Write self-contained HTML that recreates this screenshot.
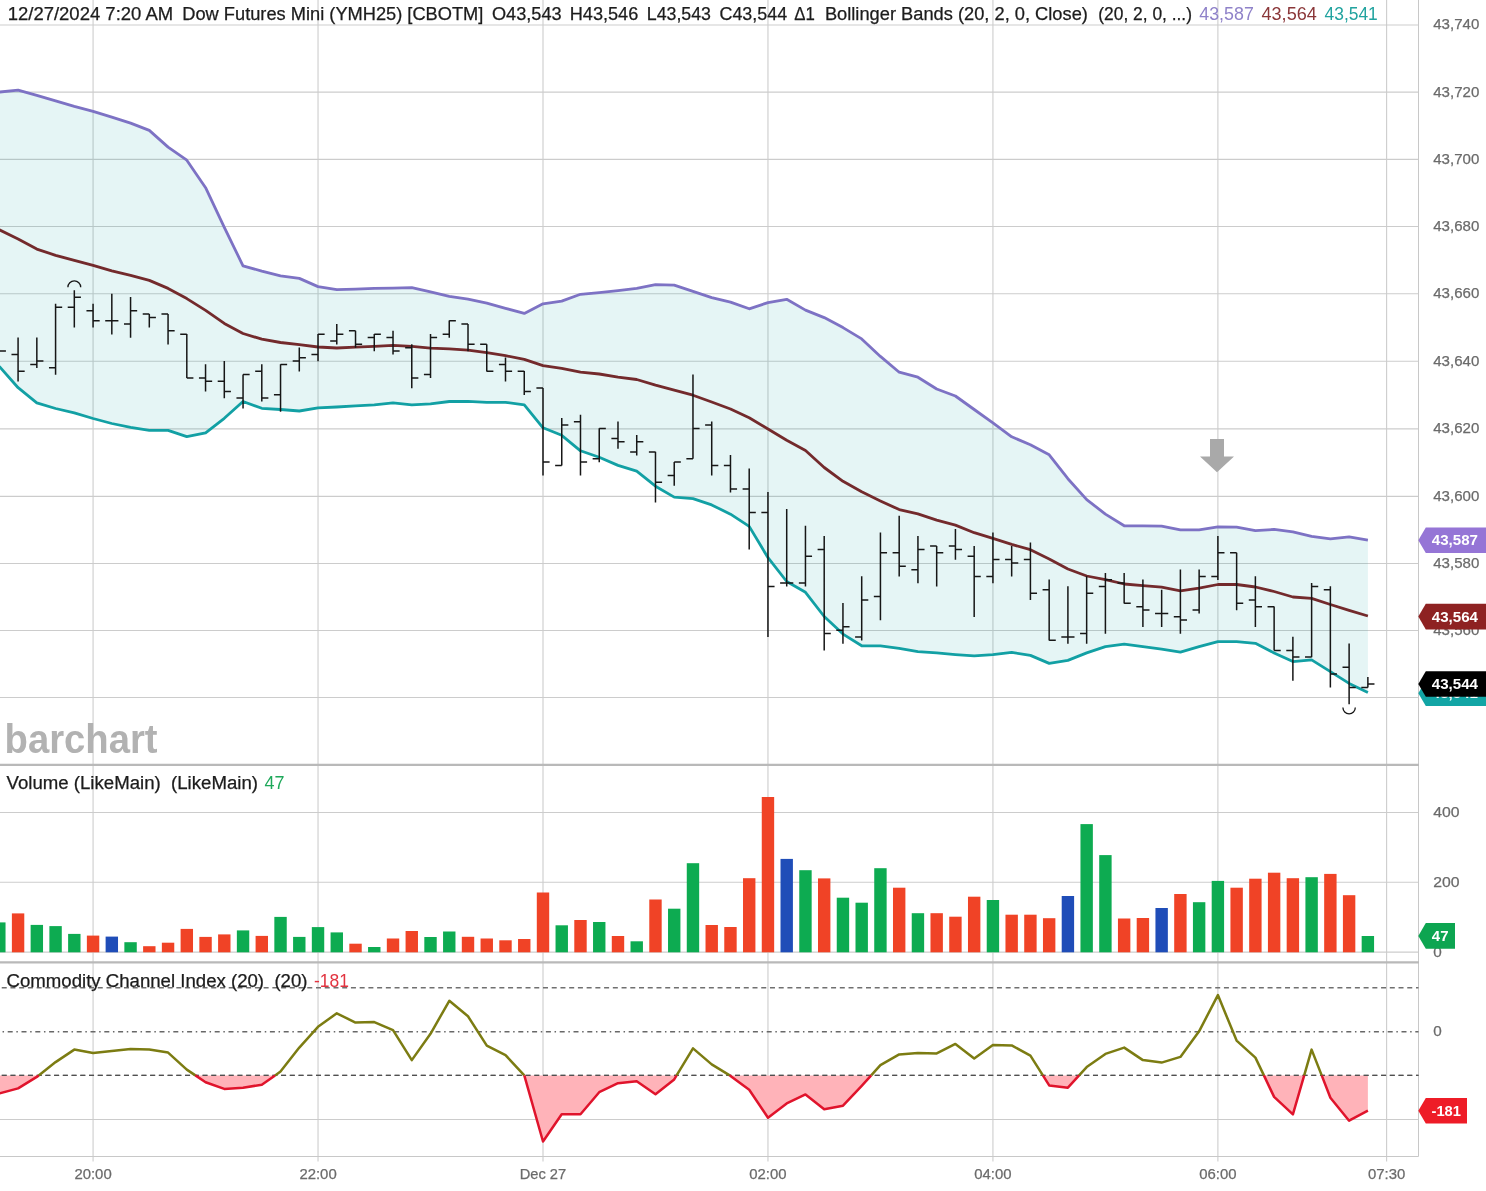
<!DOCTYPE html>
<html lang="en"><head><meta charset="utf-8"><title>Dow Futures Mini (YMH25) chart</title>
<style>html,body{margin:0;padding:0;background:#fff;}body{width:1486px;height:1191px;overflow:hidden;font-family:"Liberation Sans", sans-serif;}svg{display:block}</style>
</head><body>
<svg width="1486" height="1191" viewBox="0 0 1486 1191" font-family='"Liberation Sans", sans-serif'>
<rect width="1486" height="1191" fill="#fff"/>
<path d="M93.07 0V1161.5 M318.03 0V1161.5 M543.0 0V1161.5 M767.96 0V1161.5 M992.93 0V1161.5 M1217.89 0V1161.5 M1386.61 0V1161.5 M0 24.93H1418.5 M0 92.13H1418.5 M0 159.34H1418.5 M0 226.54H1418.5 M0 293.74H1418.5 M0 361.3H1418.5 M0 428.86H1418.5 M0 496.42H1418.5 M0 563.43H1418.5 M0 630.45H1418.5 M0 697.46H1418.5 M0 812.5H1418.5 M0 882.3H1418.5 M0 952.1H1418.5 M0 1119.5H1418.5" stroke="#000" stroke-opacity="0.2" stroke-width="1.1" fill="none"/>
<path d="M1418.5 0V1156.5 M0 1156.5H1418.5" stroke="#c8c8c8" stroke-width="1" fill="none"/>
<polygon points="-0.7,92.1 18.1,90.1 36.8,95.3 55.6,100.8 74.3,106.3 93.1,111.3 111.8,117.1 130.6,123.1 149.3,130.4 168.1,147.1 186.8,160.2 205.6,187.7 224.3,227.3 243.0,265.8 261.8,271.1 280.5,275.9 299.3,278.4 318.0,286.6 336.8,289.6 355.5,289.1 374.3,288.3 393.0,288.1 411.8,287.6 430.5,291.8 449.3,296.3 468.0,299.1 486.8,303.1 505.5,308.3 524.3,313.4 543.0,303.8 561.7,301.1 580.5,294.3 599.2,292.6 618.0,290.6 636.7,288.3 655.5,284.6 674.2,285.1 693.0,291.3 711.7,297.6 730.5,302.1 749.2,308.8 768.0,302.6 786.7,299.3 805.5,310.1 824.2,317.6 843.0,327.6 861.7,338.9 880.4,356.4 899.2,372.2 917.9,377.2 936.7,389.0 955.4,396.0 974.2,409.5 992.9,422.8 1011.7,436.8 1030.4,444.8 1049.2,454.8 1067.9,478.7 1086.7,499.6 1105.4,514.1 1124.2,525.8 1142.9,525.8 1161.6,526.1 1180.4,529.9 1199.1,529.9 1217.9,526.9 1236.6,527.1 1255.4,530.7 1274.1,529.4 1292.9,531.9 1311.6,536.4 1330.4,538.9 1349.1,536.9 1367.9,540.2 1367.9,692.4 1349.1,683.4 1330.4,671.6 1311.6,659.9 1292.9,661.6 1274.1,652.9 1255.4,643.3 1236.6,641.6 1217.9,641.6 1199.1,646.6 1180.4,652.1 1161.6,649.1 1142.9,646.6 1124.2,644.1 1105.4,646.6 1086.7,652.9 1067.9,660.4 1049.2,663.4 1030.4,655.4 1011.7,652.4 992.9,654.6 974.2,655.9 955.4,654.6 936.7,652.9 917.9,651.6 899.2,648.3 880.4,645.8 861.7,645.8 843.0,634.1 824.2,616.5 805.5,592.3 786.7,581.5 768.0,557.7 749.2,526.4 730.5,514.2 711.7,504.9 693.0,498.7 674.2,497.1 655.5,486.2 636.7,471.1 618.0,465.4 599.2,457.3 580.5,450.8 561.7,435.3 543.0,427.8 524.3,404.8 505.5,402.3 486.8,402.3 468.0,401.3 449.3,401.5 430.5,403.8 411.8,404.8 393.0,402.8 374.3,404.8 355.5,405.8 336.8,407.0 318.0,407.8 299.3,411.0 280.5,409.5 261.8,408.3 243.0,401.5 224.3,418.3 205.6,432.8 186.8,436.6 168.1,430.3 149.3,430.3 130.6,427.3 111.8,423.5 93.1,418.5 74.3,412.8 55.6,408.5 36.8,402.8 18.1,387.7 -0.7,366.4" fill="#12a0a4" fill-opacity="0.11"/>
<polyline points="-0.7,92.1 18.1,90.1 36.8,95.3 55.6,100.8 74.3,106.3 93.1,111.3 111.8,117.1 130.6,123.1 149.3,130.4 168.1,147.1 186.8,160.2 205.6,187.7 224.3,227.3 243.0,265.8 261.8,271.1 280.5,275.9 299.3,278.4 318.0,286.6 336.8,289.6 355.5,289.1 374.3,288.3 393.0,288.1 411.8,287.6 430.5,291.8 449.3,296.3 468.0,299.1 486.8,303.1 505.5,308.3 524.3,313.4 543.0,303.8 561.7,301.1 580.5,294.3 599.2,292.6 618.0,290.6 636.7,288.3 655.5,284.6 674.2,285.1 693.0,291.3 711.7,297.6 730.5,302.1 749.2,308.8 768.0,302.6 786.7,299.3 805.5,310.1 824.2,317.6 843.0,327.6 861.7,338.9 880.4,356.4 899.2,372.2 917.9,377.2 936.7,389.0 955.4,396.0 974.2,409.5 992.9,422.8 1011.7,436.8 1030.4,444.8 1049.2,454.8 1067.9,478.7 1086.7,499.6 1105.4,514.1 1124.2,525.8 1142.9,525.8 1161.6,526.1 1180.4,529.9 1199.1,529.9 1217.9,526.9 1236.6,527.1 1255.4,530.7 1274.1,529.4 1292.9,531.9 1311.6,536.4 1330.4,538.9 1349.1,536.9 1367.9,540.2" fill="none" stroke="#7d72c4" stroke-width="2.8" stroke-linejoin="round"/>
<polyline points="-0.7,366.4 18.1,387.7 36.8,402.8 55.6,408.5 74.3,412.8 93.1,418.5 111.8,423.5 130.6,427.3 149.3,430.3 168.1,430.3 186.8,436.6 205.6,432.8 224.3,418.3 243.0,401.5 261.8,408.3 280.5,409.5 299.3,411.0 318.0,407.8 336.8,407.0 355.5,405.8 374.3,404.8 393.0,402.8 411.8,404.8 430.5,403.8 449.3,401.5 468.0,401.3 486.8,402.3 505.5,402.3 524.3,404.8 543.0,427.8 561.7,435.3 580.5,450.8 599.2,457.3 618.0,465.4 636.7,471.1 655.5,486.2 674.2,497.1 693.0,498.7 711.7,504.9 730.5,514.2 749.2,526.4 768.0,557.7 786.7,581.5 805.5,592.3 824.2,616.5 843.0,634.1 861.7,645.8 880.4,645.8 899.2,648.3 917.9,651.6 936.7,652.9 955.4,654.6 974.2,655.9 992.9,654.6 1011.7,652.4 1030.4,655.4 1049.2,663.4 1067.9,660.4 1086.7,652.9 1105.4,646.6 1124.2,644.1 1142.9,646.6 1161.6,649.1 1180.4,652.1 1199.1,646.6 1217.9,641.6 1236.6,641.6 1255.4,643.3 1274.1,652.9 1292.9,661.6 1311.6,659.9 1330.4,671.6 1349.1,683.4 1367.9,692.4" fill="none" stroke="#12a0a4" stroke-width="2.8" stroke-linejoin="round"/>
<polyline points="-0.7,229.8 18.1,239.0 36.8,249.1 55.6,255.3 74.3,260.3 93.1,265.3 111.8,270.9 130.6,275.4 149.3,280.4 168.1,288.4 186.8,298.6 205.6,310.4 224.3,323.4 243.0,333.5 261.8,339.2 280.5,342.5 299.3,344.7 318.0,347.0 336.8,348.0 355.5,347.2 374.3,346.4 393.0,345.4 411.8,346.4 430.5,348.2 449.3,348.9 468.0,350.2 486.8,352.7 505.5,355.7 524.3,359.4 543.0,365.7 561.7,368.4 580.5,372.2 599.2,374.0 618.0,377.2 636.7,379.5 655.5,385.2 674.2,390.2 693.0,395.2 711.7,402.0 730.5,409.0 749.2,417.8 768.0,429.0 786.7,440.3 805.5,450.5 824.2,467.5 843.0,481.3 861.7,491.8 880.4,500.9 899.2,509.6 917.9,513.9 936.7,520.1 955.4,525.1 974.2,532.7 992.9,538.4 1011.7,544.4 1030.4,549.7 1049.2,558.9 1067.9,569.0 1086.7,576.0 1105.4,579.7 1124.2,584.0 1142.9,585.7 1161.6,587.2 1180.4,590.8 1199.1,588.2 1217.9,584.5 1236.6,584.5 1255.4,587.0 1274.1,591.5 1292.9,597.0 1311.6,598.3 1330.4,604.5 1349.1,610.3 1367.9,616.0" fill="none" stroke="#732a2c" stroke-width="2.8" stroke-linejoin="round"/>
<path d="M-0.67 351.0h6.6M18.08 337.4V381.5M11.48 354.4H18.08M18.08 371.2h6.6M36.83 337.4V368.0M30.23 364.5H36.83M36.83 361.1h6.6M55.58 303.8V374.7M48.98 367.8H55.58M55.58 307.3h6.6M74.32 290.3V327.6M67.72 307.3H74.32M74.32 297.2h6.6M93.07 303.8V327.6M86.47 310.7H93.07M93.07 320.8h6.6M111.82 293.7V334.4M105.22 320.8H111.82M111.82 320.8h6.6M130.56 297.1V337.7M123.96 324.1H130.56M130.56 310.7h6.6M149.31 313.9V327.6M142.71 314.0H149.31M149.31 317.4h6.6M168.06 313.9V344.5M161.46 314.0H168.06M168.06 330.8h6.6M186.81 334.1V378.1M180.21 334.2H186.81M186.81 377.9h6.6M205.55 364.3V391.5M198.95 377.9H205.55M205.55 381.3h6.6M224.30 361.0V398.3M217.70 381.3H224.30M224.30 391.4h6.6M243.05 374.4V408.4M236.45 398.1H243.05M243.05 374.6h6.6M261.79 364.3V401.6M255.19 371.2H261.79M261.79 398.1h6.6M280.54 364.3V411.7M273.94 394.8H280.54M280.54 364.5h6.6M299.29 347.5V371.4M292.69 361.1H299.29M299.29 357.8h6.6M318.03 334.1V361.3M311.43 354.4H318.03M318.03 334.2h6.6M336.78 324.0V344.5M330.18 340.9H336.78M336.78 334.2h6.6M355.53 330.7V347.8M348.93 330.8H355.53M355.53 344.3h6.6M374.27 334.1V351.2M367.67 337.6H374.27M374.27 334.2h6.6M393.02 330.7V354.5M386.42 337.6H393.02M393.02 351.0h6.6M411.77 344.2V388.2M405.17 347.7H411.77M411.77 377.9h6.6M430.52 334.1V378.1M423.92 374.6H430.52M430.52 337.6h6.6M449.26 320.6V337.7M442.66 334.2H449.26M449.26 320.8h6.6M468.01 324.0V351.2M461.41 324.1H468.01M468.01 344.3h6.6M486.76 344.2V371.4M480.16 344.3H486.76M486.76 371.2h6.6M505.50 357.6V381.5M498.90 364.5H505.50M505.50 371.2h6.6M524.25 371.1V394.9M517.65 371.2H524.25M524.25 391.4h6.6M543.00 387.9V475.6M536.40 388.0H543.00M543.00 462.0h6.6M561.75 418.1V465.5M555.14 465.4H561.75M561.75 425.0h6.6M580.49 414.8V475.6M573.89 421.7H580.49M580.49 462.0h6.6M599.24 428.2V462.2M592.64 458.7H599.24M599.24 428.4h6.6M617.99 421.5V448.7M611.39 438.5H617.99M617.99 441.8h6.6M636.73 435.0V455.4M630.13 451.9H636.73M636.73 441.8h6.6M655.48 451.8V502.5M648.88 451.9H655.48M655.48 482.2h6.6M674.23 461.9V485.7M667.63 475.5H674.23M674.23 462.0h6.6M692.97 374.4V458.8M686.37 458.7H692.97M692.97 428.4h6.6M711.72 421.5V475.6M705.12 425.0H711.72M711.72 465.4h6.6M730.47 455.1V492.4M723.87 465.4H730.47M730.47 488.9h6.6M749.21 468.6V549.6M742.61 488.9H749.21M749.21 512.5h6.6M767.96 492.1V637.1M761.36 512.5H767.96M767.96 586.5h6.6M786.71 509.0V586.6M780.11 583.1H786.71M786.71 583.1h6.6M805.46 525.8V586.6M798.86 583.1H805.46M805.46 556.2h6.6M824.20 535.9V650.5M817.60 549.5H824.20M824.20 633.6h6.6M842.95 603.1V643.8M836.35 630.2H842.95M842.95 626.8h6.6M861.70 576.2V640.4M855.10 636.9H861.70M861.70 599.9h6.6M880.44 532.5V620.3M873.84 596.6H880.44M880.44 552.8h6.6M899.19 515.7V576.5M892.59 552.8H899.19M899.19 566.3h6.6M917.94 535.9V583.3M911.34 569.7H917.94M917.94 549.5h6.6M936.68 546.0V586.6M930.08 546.1H936.68M936.68 552.8h6.6M955.43 529.1V559.7M948.83 546.1H955.43M955.43 549.5h6.6M974.18 546.0V616.9M967.58 556.2H974.18M974.18 576.4h6.6M992.93 532.5V583.3M986.33 576.4H992.93M992.93 559.6h6.6M1011.67 546.0V576.5M1005.07 559.6H1011.67M1011.67 562.9h6.6M1030.42 542.6V600.1M1023.82 559.6H1030.42M1030.42 593.2h6.6M1049.17 579.6V640.4M1042.57 589.8H1049.17M1049.17 640.3h6.6M1067.91 586.3V643.8M1061.31 636.9H1067.91M1067.91 636.9h6.6M1086.66 576.2V643.8M1080.06 633.6H1086.66M1086.66 593.2h6.6M1105.41 572.9V633.7M1098.81 586.5H1105.41M1105.41 579.7h6.6M1124.15 572.9V603.4M1117.56 583.1H1124.15M1124.15 603.3h6.6M1142.90 579.6V627.0M1136.30 606.7H1142.90M1142.90 610.0h6.6M1161.65 589.7V627.0M1155.05 613.4H1161.65M1161.65 613.4h6.6M1180.40 569.5V633.7M1173.80 616.7H1180.40M1180.40 620.1h6.6M1199.14 569.5V613.5M1192.54 610.0H1199.14M1199.14 576.4h6.6M1217.89 535.9V579.9M1211.29 576.4H1217.89M1217.89 552.8h6.6M1236.64 552.7V610.2M1230.04 552.8H1236.64M1236.64 603.3h6.6M1255.38 576.2V627.0M1248.78 599.9H1255.38M1255.38 606.7h6.6M1274.13 606.5V650.5M1267.53 606.7H1274.13M1274.13 650.4h6.6M1292.88 636.8V680.8M1286.28 650.4H1292.88M1292.88 657.1h6.6M1311.62 583.0V657.3M1305.03 657.1H1311.62M1311.62 586.5h6.6M1330.37 586.3V687.5M1323.77 589.8H1330.37M1330.37 673.9h6.6M1349.12 643.5V704.3M1342.52 667.2H1349.12M1349.12 687.4h6.6M1367.87 677.1V687.5M1361.27 687.4H1367.87M1367.87 684.0h6.6" stroke="#161616" stroke-width="1.5" fill="none"/>
<path d="M67.9 287.2a6.4 6.4 0 0 1 12.8 0" fill="none" stroke="#161616" stroke-width="1.3"/>
<path d="M1342.9 707.6a6.2 6.2 0 0 0 12.4 0" fill="none" stroke="#161616" stroke-width="1.3"/>
<path d="M1210 439H1224V456.5H1234L1217 472.3L1200 456.5H1210Z" fill="#a9a9a9"/>
<text x="4.6" y="752.8" font-size="40" font-weight="bold" fill="#b2b2b2" textLength="153" lengthAdjust="spacingAndGlyphs">barchart</text>
<path d="M0 764.9H1419.0 M0 962.4H1419.0" stroke="#b9b9b9" stroke-width="2.2" fill="none"/>
<rect x="-6.87" y="922.4" width="12.4" height="29.9" fill="#0dab51"/>
<rect x="11.88" y="913.4" width="12.4" height="38.9" fill="#f04326"/>
<rect x="30.63" y="924.9" width="12.4" height="27.4" fill="#0dab51"/>
<rect x="49.38" y="926.1" width="12.4" height="26.2" fill="#0dab51"/>
<rect x="68.12" y="933.9" width="12.4" height="18.4" fill="#0dab51"/>
<rect x="86.87" y="935.6" width="12.4" height="16.7" fill="#f04326"/>
<rect x="105.62" y="936.6" width="12.4" height="15.7" fill="#1f4db8"/>
<rect x="124.36" y="942.2" width="12.4" height="10.1" fill="#0dab51"/>
<rect x="143.11" y="946.2" width="12.4" height="6.1" fill="#f04326"/>
<rect x="161.86" y="942.7" width="12.4" height="9.6" fill="#f04326"/>
<rect x="180.61" y="928.9" width="12.4" height="23.4" fill="#f04326"/>
<rect x="199.35" y="936.9" width="12.4" height="15.4" fill="#f04326"/>
<rect x="218.10" y="934.4" width="12.4" height="17.9" fill="#f04326"/>
<rect x="236.85" y="930.4" width="12.4" height="21.9" fill="#0dab51"/>
<rect x="255.59" y="935.9" width="12.4" height="16.4" fill="#f04326"/>
<rect x="274.34" y="916.9" width="12.4" height="35.4" fill="#0dab51"/>
<rect x="293.09" y="936.9" width="12.4" height="15.4" fill="#0dab51"/>
<rect x="311.83" y="927.1" width="12.4" height="25.2" fill="#0dab51"/>
<rect x="330.58" y="932.4" width="12.4" height="19.9" fill="#0dab51"/>
<rect x="349.33" y="943.7" width="12.4" height="8.6" fill="#f04326"/>
<rect x="368.07" y="947.0" width="12.4" height="5.3" fill="#0dab51"/>
<rect x="386.82" y="938.5" width="12.4" height="13.8" fill="#f04326"/>
<rect x="405.57" y="931.0" width="12.4" height="21.3" fill="#f04326"/>
<rect x="424.32" y="937.0" width="12.4" height="15.3" fill="#0dab51"/>
<rect x="443.06" y="931.5" width="12.4" height="20.8" fill="#0dab51"/>
<rect x="461.81" y="936.8" width="12.4" height="15.5" fill="#f04326"/>
<rect x="480.56" y="938.5" width="12.4" height="13.8" fill="#f04326"/>
<rect x="499.30" y="940.3" width="12.4" height="12.0" fill="#f04326"/>
<rect x="518.05" y="939.0" width="12.4" height="13.3" fill="#f04326"/>
<rect x="536.80" y="892.5" width="12.4" height="59.8" fill="#f04326"/>
<rect x="555.54" y="925.3" width="12.4" height="27.0" fill="#0dab51"/>
<rect x="574.29" y="920.0" width="12.4" height="32.3" fill="#f04326"/>
<rect x="593.04" y="922.0" width="12.4" height="30.3" fill="#0dab51"/>
<rect x="611.79" y="936.0" width="12.4" height="16.3" fill="#f04326"/>
<rect x="630.53" y="941.3" width="12.4" height="11.0" fill="#0dab51"/>
<rect x="649.28" y="899.5" width="12.4" height="52.8" fill="#f04326"/>
<rect x="668.03" y="908.7" width="12.4" height="43.6" fill="#0dab51"/>
<rect x="686.77" y="863.2" width="12.4" height="89.1" fill="#0dab51"/>
<rect x="705.52" y="925.0" width="12.4" height="27.3" fill="#f04326"/>
<rect x="724.27" y="927.0" width="12.4" height="25.3" fill="#f04326"/>
<rect x="743.01" y="878.2" width="12.4" height="74.1" fill="#f04326"/>
<rect x="761.76" y="797.0" width="12.4" height="155.3" fill="#f04326"/>
<rect x="780.51" y="858.9" width="12.4" height="93.4" fill="#1f4db8"/>
<rect x="799.26" y="870.2" width="12.4" height="82.1" fill="#0dab51"/>
<rect x="818.00" y="878.4" width="12.4" height="73.9" fill="#f04326"/>
<rect x="836.75" y="897.7" width="12.4" height="54.6" fill="#0dab51"/>
<rect x="855.50" y="902.7" width="12.4" height="49.6" fill="#0dab51"/>
<rect x="874.24" y="868.2" width="12.4" height="84.1" fill="#0dab51"/>
<rect x="892.99" y="887.7" width="12.4" height="64.6" fill="#f04326"/>
<rect x="911.74" y="913.2" width="12.4" height="39.1" fill="#0dab51"/>
<rect x="930.48" y="913.2" width="12.4" height="39.1" fill="#f04326"/>
<rect x="949.23" y="916.7" width="12.4" height="35.6" fill="#f04326"/>
<rect x="967.98" y="896.7" width="12.4" height="55.6" fill="#f04326"/>
<rect x="986.73" y="900.0" width="12.4" height="52.3" fill="#0dab51"/>
<rect x="1005.47" y="914.7" width="12.4" height="37.6" fill="#f04326"/>
<rect x="1024.22" y="914.7" width="12.4" height="37.6" fill="#f04326"/>
<rect x="1042.97" y="918.2" width="12.4" height="34.1" fill="#f04326"/>
<rect x="1061.71" y="896.0" width="12.4" height="56.3" fill="#1f4db8"/>
<rect x="1080.46" y="824.1" width="12.4" height="128.2" fill="#0dab51"/>
<rect x="1099.21" y="855.1" width="12.4" height="97.2" fill="#0dab51"/>
<rect x="1117.95" y="918.5" width="12.4" height="33.8" fill="#f04326"/>
<rect x="1136.70" y="918.0" width="12.4" height="34.3" fill="#f04326"/>
<rect x="1155.45" y="908.0" width="12.4" height="44.3" fill="#1f4db8"/>
<rect x="1174.20" y="894.0" width="12.4" height="58.3" fill="#f04326"/>
<rect x="1192.94" y="902.2" width="12.4" height="50.1" fill="#0dab51"/>
<rect x="1211.69" y="880.9" width="12.4" height="71.4" fill="#0dab51"/>
<rect x="1230.44" y="887.7" width="12.4" height="64.6" fill="#f04326"/>
<rect x="1249.18" y="878.7" width="12.4" height="73.6" fill="#f04326"/>
<rect x="1267.93" y="872.7" width="12.4" height="79.6" fill="#f04326"/>
<rect x="1286.68" y="878.2" width="12.4" height="74.1" fill="#f04326"/>
<rect x="1305.42" y="877.2" width="12.4" height="75.1" fill="#0dab51"/>
<rect x="1324.17" y="873.9" width="12.4" height="78.4" fill="#f04326"/>
<rect x="1342.92" y="895.2" width="12.4" height="57.1" fill="#f04326"/>
<rect x="1361.67" y="936.0" width="12.4" height="16.3" fill="#0dab51"/>
<path d="M0 987.8H1418.5 M0 1075.4H1418.5" stroke="#707070" stroke-width="1.4" stroke-dasharray="5 3.73" stroke-dashoffset="7" fill="none"/>
<path d="M0 1031.7H1418.5" stroke="#686868" stroke-width="1.4" stroke-dasharray="5 3.65 1.5 3.65" stroke-dashoffset="6.1" fill="none"/>
<polygon points="-0.7,1075.4 -0.7,1093.4 18.1,1088.4 36.8,1076.9 38.7,1075.4 38.7,1075.4" fill="#ffb3b9"/>
<polygon points="195.4,1075.4 195.4,1075.4 205.6,1082.2 224.3,1088.9 243.0,1087.7 261.8,1084.7 275.1,1075.4 275.1,1075.4" fill="#ffb3b9"/>
<polygon points="524.3,1075.4 524.3,1075.4 524.3,1075.4 543.0,1141.5 561.7,1114.2 580.5,1114.2 599.2,1092.2 618.0,1083.2 636.7,1081.2 655.5,1094.2 674.2,1079.4 676.6,1075.4 676.6,1075.4" fill="#ffb3b9"/>
<polygon points="729.7,1075.4 729.7,1075.4 730.5,1075.9 749.2,1089.7 768.0,1117.7 786.7,1103.4 805.5,1094.4 824.2,1109.2 843.0,1105.7 861.7,1085.9 871.2,1075.4 871.2,1075.4" fill="#ffb3b9"/>
<polygon points="1042.9,1075.4 1042.9,1075.4 1049.2,1085.4 1067.9,1087.7 1079.1,1075.4 1079.1,1075.4" fill="#ffb3b9"/>
<polygon points="1263.9,1075.4 1263.9,1075.4 1274.1,1096.9 1292.9,1114.4 1304.2,1075.4 1304.2,1075.4" fill="#ffb3b9"/>
<polygon points="1321.7,1075.4 1321.7,1075.4 1330.4,1097.7 1349.1,1120.7 1367.9,1110.7 1367.9,1075.4" fill="#ffb3b9"/>
<path d="M0 1075.4H1418.5" stroke="#505050" stroke-width="1.4" stroke-dasharray="5 3.73" stroke-dashoffset="7" fill="none"/>
<polyline points="38.7,1075.4 55.6,1062.1 74.3,1049.6 93.1,1053.1 111.8,1050.9 130.6,1048.9 149.3,1049.4 168.1,1052.6 186.8,1069.6 195.4,1075.4" fill="none" stroke="#7c7c12" stroke-width="2.5" stroke-linejoin="round"/>
<polyline points="275.1,1075.4 280.5,1071.6 299.3,1047.6 318.0,1026.8 336.8,1013.3 355.5,1022.6 374.3,1022.1 393.0,1030.1 411.8,1060.1 430.5,1033.8 449.3,1000.8 468.0,1016.3 486.8,1045.6 505.5,1055.1 524.3,1075.4" fill="none" stroke="#7c7c12" stroke-width="2.5" stroke-linejoin="round"/>
<polyline points="676.6,1075.4 693.0,1048.4 711.7,1064.4 729.7,1075.4" fill="none" stroke="#7c7c12" stroke-width="2.5" stroke-linejoin="round"/>
<polyline points="871.2,1075.4 880.4,1065.1 899.2,1054.4 917.9,1053.1 936.7,1053.4 955.4,1043.9 974.2,1058.4 992.9,1045.1 1011.7,1045.4 1030.4,1055.6 1042.9,1075.4" fill="none" stroke="#7c7c12" stroke-width="2.5" stroke-linejoin="round"/>
<polyline points="1079.1,1075.4 1086.7,1067.1 1105.4,1053.9 1124.2,1047.6 1142.9,1060.1 1161.6,1062.6 1180.4,1056.9 1199.1,1031.3 1217.9,995.1 1236.6,1040.6 1255.4,1057.6 1263.9,1075.4" fill="none" stroke="#7c7c12" stroke-width="2.5" stroke-linejoin="round"/>
<polyline points="1304.2,1075.4 1311.6,1049.6 1321.7,1075.4" fill="none" stroke="#7c7c12" stroke-width="2.5" stroke-linejoin="round"/>
<polyline points="-0.7,1093.4 18.1,1088.4 36.8,1076.9 38.7,1075.4" fill="none" stroke="#e0142c" stroke-width="2.5" stroke-linejoin="round"/>
<polyline points="195.4,1075.4 205.6,1082.2 224.3,1088.9 243.0,1087.7 261.8,1084.7 275.1,1075.4" fill="none" stroke="#e0142c" stroke-width="2.5" stroke-linejoin="round"/>
<polyline points="524.3,1075.4 524.3,1075.4 543.0,1141.5 561.7,1114.2 580.5,1114.2 599.2,1092.2 618.0,1083.2 636.7,1081.2 655.5,1094.2 674.2,1079.4 676.6,1075.4" fill="none" stroke="#e0142c" stroke-width="2.5" stroke-linejoin="round"/>
<polyline points="729.7,1075.4 730.5,1075.9 749.2,1089.7 768.0,1117.7 786.7,1103.4 805.5,1094.4 824.2,1109.2 843.0,1105.7 861.7,1085.9 871.2,1075.4" fill="none" stroke="#e0142c" stroke-width="2.5" stroke-linejoin="round"/>
<polyline points="1042.9,1075.4 1049.2,1085.4 1067.9,1087.7 1079.1,1075.4" fill="none" stroke="#e0142c" stroke-width="2.5" stroke-linejoin="round"/>
<polyline points="1263.9,1075.4 1274.1,1096.9 1292.9,1114.4 1304.2,1075.4" fill="none" stroke="#e0142c" stroke-width="2.5" stroke-linejoin="round"/>
<polyline points="1321.7,1075.4 1330.4,1097.7 1349.1,1120.7 1367.9,1110.7" fill="none" stroke="#e0142c" stroke-width="2.5" stroke-linejoin="round"/>
<text x="7.7" y="20.2" font-size="17.6" fill="#1c1c1c" stroke="#1c1c1c" stroke-width="0.25" textLength="165.5" lengthAdjust="spacingAndGlyphs" style="white-space:pre">12/27/2024 7:20 AM</text>
<text x="182.3" y="20.2" font-size="17.6" fill="#1c1c1c" stroke="#1c1c1c" stroke-width="0.25" textLength="301.1" lengthAdjust="spacingAndGlyphs" style="white-space:pre">Dow Futures Mini (YMH25) [CBOTM]</text>
<text x="491.9" y="20.2" font-size="17.6" fill="#1c1c1c" stroke="#1c1c1c" stroke-width="0.25" textLength="69.7" lengthAdjust="spacingAndGlyphs" style="white-space:pre">O43,543</text>
<text x="569.7" y="20.2" font-size="17.6" fill="#1c1c1c" stroke="#1c1c1c" stroke-width="0.25" textLength="68.6" lengthAdjust="spacingAndGlyphs" style="white-space:pre">H43,546</text>
<text x="646.8" y="20.2" font-size="17.6" fill="#1c1c1c" stroke="#1c1c1c" stroke-width="0.25" textLength="64.2" lengthAdjust="spacingAndGlyphs" style="white-space:pre">L43,543</text>
<text x="719.5" y="20.2" font-size="17.6" fill="#1c1c1c" stroke="#1c1c1c" stroke-width="0.25" textLength="67.6" lengthAdjust="spacingAndGlyphs" style="white-space:pre">C43,544</text>
<text x="794.2" y="20.2" font-size="17.6" fill="#1c1c1c" stroke="#1c1c1c" stroke-width="0.25" textLength="20.6" lengthAdjust="spacingAndGlyphs" style="white-space:pre">Δ1</text>
<text x="824.9" y="20.2" font-size="17.6" fill="#1c1c1c" stroke="#1c1c1c" stroke-width="0.25" textLength="263.0" lengthAdjust="spacingAndGlyphs" style="white-space:pre">Bollinger Bands (20, 2, 0, Close)</text>
<text x="1098.3" y="20.2" font-size="17.6" fill="#1c1c1c" stroke="#1c1c1c" stroke-width="0.25" textLength="93.7" lengthAdjust="spacingAndGlyphs" style="white-space:pre">(20, 2, 0, ...)</text>
<text x="1199.3" y="20.2" font-size="17.6" fill="#8f82c9" stroke="#8f82c9" stroke-width="0" textLength="54.5" lengthAdjust="spacingAndGlyphs" style="white-space:pre">43,587</text>
<text x="1261.5" y="20.2" font-size="17.6" fill="#8a3638" stroke="#8a3638" stroke-width="0" textLength="55.3" lengthAdjust="spacingAndGlyphs" style="white-space:pre">43,564</text>
<text x="1324.5" y="20.2" font-size="17.6" fill="#21a39f" stroke="#21a39f" stroke-width="0" textLength="53.3" lengthAdjust="spacingAndGlyphs" style="white-space:pre">43,541</text>
<text x="6.5" y="788.9" font-size="17.6" fill="#1c1c1c" stroke="#1c1c1c" stroke-width="0.25" textLength="251.5" lengthAdjust="spacingAndGlyphs" style="white-space:pre">Volume (LikeMain)  (LikeMain)</text>
<text x="264.5" y="788.9" font-size="17.6" fill="#1ea85a" stroke="#1ea85a" stroke-width="0" textLength="20.0" lengthAdjust="spacingAndGlyphs" style="white-space:pre">47</text>
<text x="6.5" y="986.9" font-size="17.6" fill="#1c1c1c" stroke="#1c1c1c" stroke-width="0.25" textLength="301.0" lengthAdjust="spacingAndGlyphs" style="white-space:pre">Commodity Channel Index (20)  (20)</text>
<text x="314" y="986.9" font-size="17.6" fill="#e23440" stroke="#e23440" stroke-width="0" textLength="35.0" lengthAdjust="spacingAndGlyphs" style="white-space:pre">-181</text>
<text x="1433.2" y="29.4" font-size="14.7" fill="#6b6b6b" stroke="#6b6b6b" stroke-width="0.25" textLength="46.1" lengthAdjust="spacingAndGlyphs" style="white-space:pre">43,740</text>
<text x="1433.2" y="96.6" font-size="14.7" fill="#6b6b6b" stroke="#6b6b6b" stroke-width="0.25" textLength="46.1" lengthAdjust="spacingAndGlyphs" style="white-space:pre">43,720</text>
<text x="1433.2" y="163.8" font-size="14.7" fill="#6b6b6b" stroke="#6b6b6b" stroke-width="0.25" textLength="46.1" lengthAdjust="spacingAndGlyphs" style="white-space:pre">43,700</text>
<text x="1433.2" y="231.0" font-size="14.7" fill="#6b6b6b" stroke="#6b6b6b" stroke-width="0.25" textLength="46.1" lengthAdjust="spacingAndGlyphs" style="white-space:pre">43,680</text>
<text x="1433.2" y="298.2" font-size="14.7" fill="#6b6b6b" stroke="#6b6b6b" stroke-width="0.25" textLength="46.1" lengthAdjust="spacingAndGlyphs" style="white-space:pre">43,660</text>
<text x="1433.2" y="365.8" font-size="14.7" fill="#6b6b6b" stroke="#6b6b6b" stroke-width="0.25" textLength="46.1" lengthAdjust="spacingAndGlyphs" style="white-space:pre">43,640</text>
<text x="1433.2" y="433.4" font-size="14.7" fill="#6b6b6b" stroke="#6b6b6b" stroke-width="0.25" textLength="46.1" lengthAdjust="spacingAndGlyphs" style="white-space:pre">43,620</text>
<text x="1433.2" y="500.9" font-size="14.7" fill="#6b6b6b" stroke="#6b6b6b" stroke-width="0.25" textLength="46.1" lengthAdjust="spacingAndGlyphs" style="white-space:pre">43,600</text>
<text x="1433.2" y="567.9" font-size="14.7" fill="#6b6b6b" stroke="#6b6b6b" stroke-width="0.25" textLength="46.1" lengthAdjust="spacingAndGlyphs" style="white-space:pre">43,580</text>
<text x="1433.2" y="634.9" font-size="14.7" fill="#6b6b6b" stroke="#6b6b6b" stroke-width="0.25" textLength="46.1" lengthAdjust="spacingAndGlyphs" style="white-space:pre">43,560</text>
<text x="1433.2" y="702.0" font-size="14.7" fill="#6b6b6b" stroke="#6b6b6b" stroke-width="0.25" textLength="46.1" lengthAdjust="spacingAndGlyphs" style="white-space:pre">43,540</text>
<text x="1433.2" y="817.0" font-size="14.7" fill="#6b6b6b" stroke="#6b6b6b" stroke-width="0.25" textLength="26.3" lengthAdjust="spacingAndGlyphs" style="white-space:pre">400</text>
<text x="1433.2" y="886.8" font-size="14.7" fill="#6b6b6b" stroke="#6b6b6b" stroke-width="0.25" textLength="26.3" lengthAdjust="spacingAndGlyphs" style="white-space:pre">200</text>
<text x="1433.2" y="956.6" font-size="14.7" fill="#6b6b6b" stroke="#6b6b6b" stroke-width="0.25" textLength="8.5" lengthAdjust="spacingAndGlyphs" style="white-space:pre">0</text>
<text x="1433.2" y="1036.2" font-size="14.7" fill="#6b6b6b" stroke="#6b6b6b" stroke-width="0.25" textLength="8.5" lengthAdjust="spacingAndGlyphs" style="white-space:pre">0</text>
<text x="74.4" y="1178.5" font-size="14.7" fill="#6b6b6b" stroke="#6b6b6b" stroke-width="0.25" textLength="37.3" lengthAdjust="spacingAndGlyphs" style="white-space:pre">20:00</text>
<text x="299.4" y="1178.5" font-size="14.7" fill="#6b6b6b" stroke="#6b6b6b" stroke-width="0.25" textLength="37.3" lengthAdjust="spacingAndGlyphs" style="white-space:pre">22:00</text>
<text x="519.7" y="1178.5" font-size="14.7" fill="#6b6b6b" stroke="#6b6b6b" stroke-width="0.25" textLength="46.5" lengthAdjust="spacingAndGlyphs" style="white-space:pre">Dec 27</text>
<text x="749.3" y="1178.5" font-size="14.7" fill="#6b6b6b" stroke="#6b6b6b" stroke-width="0.25" textLength="37.3" lengthAdjust="spacingAndGlyphs" style="white-space:pre">02:00</text>
<text x="974.3" y="1178.5" font-size="14.7" fill="#6b6b6b" stroke="#6b6b6b" stroke-width="0.25" textLength="37.3" lengthAdjust="spacingAndGlyphs" style="white-space:pre">04:00</text>
<text x="1199.2" y="1178.5" font-size="14.7" fill="#6b6b6b" stroke="#6b6b6b" stroke-width="0.25" textLength="37.3" lengthAdjust="spacingAndGlyphs" style="white-space:pre">06:00</text>
<text x="1368.0" y="1178.5" font-size="14.7" fill="#6b6b6b" stroke="#6b6b6b" stroke-width="0.25" textLength="37.3" lengthAdjust="spacingAndGlyphs" style="white-space:pre">07:30</text>
<path d="M1418.3 540.3L1425.8 527.5H1490V553.1H1425.8Z" fill="#9575d6"/>
<text x="1431.8" y="545.2" font-size="14.4" font-weight="bold" fill="#fff" textLength="46.2" lengthAdjust="spacingAndGlyphs">43,587</text>
<path d="M1418.3 616.6L1425.8 603.8H1490V629.4H1425.8Z" fill="#8e2222"/>
<text x="1431.8" y="621.5" font-size="14.4" font-weight="bold" fill="#fff" textLength="46.2" lengthAdjust="spacingAndGlyphs">43,564</text>
<path d="M1418.3 693.3L1425.8 680.5H1490V706.1H1425.8Z" fill="#12a5a5"/>
<text x="1431.8" y="698.2" font-size="14.4" font-weight="bold" fill="#fff" textLength="46.2" lengthAdjust="spacingAndGlyphs">43,541</text>
<path d="M1418.3 684.0L1425.8 671.2H1490V696.8H1425.8Z" fill="#000"/>
<text x="1431.8" y="688.9" font-size="14.4" font-weight="bold" fill="#fff" textLength="46.2" lengthAdjust="spacingAndGlyphs">43,544</text>
<path d="M1418.3 935.9L1425.8 923.1H1455V948.7H1425.8Z" fill="#0da551"/>
<text x="1431.8" y="940.8" font-size="14.4" font-weight="bold" fill="#fff" textLength="16.7" lengthAdjust="spacingAndGlyphs">47</text>
<path d="M1418.3 1110.7L1425.8 1097.9H1467V1123.5H1425.8Z" fill="#ee1c27"/>
<text x="1431.5" y="1115.6" font-size="14.4" font-weight="bold" fill="#fff" textLength="29.5" lengthAdjust="spacingAndGlyphs">-181</text>
</svg>
</body></html>
